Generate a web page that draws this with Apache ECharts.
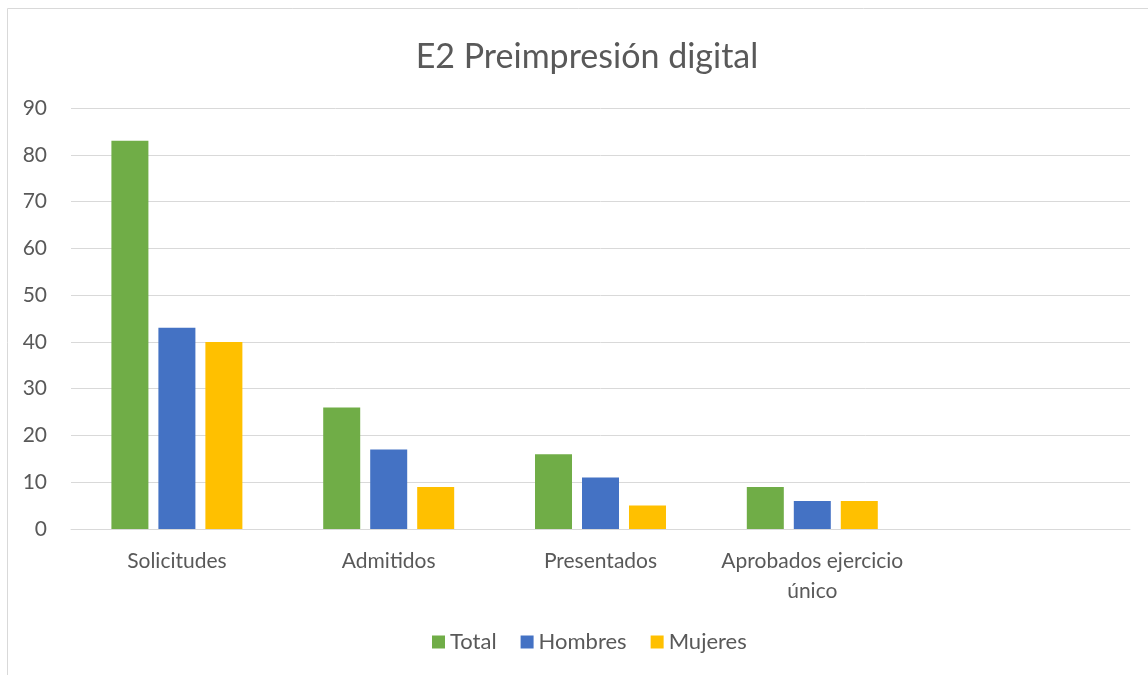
<!DOCTYPE html>
<html>
<head>
<meta charset="utf-8">
<script src="https://cdn.jsdelivr.net/npm/echarts@6/dist/echarts.min.js"></script>
<style>
  html, body { margin: 0; padding: 0; background: #fff; }
  #box { width: 1148px; height: 675px; }
</style>
</head>
<body>
<div id="box"></div>
<script>
// categories (last one is empty in the original sheet)
const categories = ["Solicitudes", "Admitidos", "Presentados", "Aprobados ejercicio\núnico", ""];
const total = [83, 26, 16, 9, null];
const hombres = [43, 17, 11, 6, null];
const mujeres = [40, 9, 5, 6, null];
const yTicks = [0, 10, 20, 30, 40, 50, 60, 70, 80, 90];

const font = "Lato, 'Open Sans', sans-serif";
const grey = "#595959";

let myCharts = echarts.init(document.getElementById("box"));
let option = {
  animation: false,
  textStyle: { fontFamily: font },
  title: {
    text: "E2 Preimpresión digital",
    left: 582,
    top: 35,
    textAlign: "center",
    textStyle: { fontFamily: font, fontSize: 34, fontWeight: "normal", color: grey }
  },
  graphic: [
    {
      type: "rect",
      shape: { x: 7.5, y: 8.5, width: 1160, height: 700 },
      style: { fill: "none", stroke: "#d9d9d9", lineWidth: 1 },
      silent: true
    }
  ],
  legend: {
    data: ["Total", "Hombres", "Mujeres"],
    bottom: 17,
    left: 427,
    itemWidth: 13,
    itemHeight: 13,
    itemGap: 24,
    icon: "rect",
    textStyle: { fontFamily: font, fontSize: 22, color: grey }
  },
  grid: {
    left: 71,
    right: 18,
    top: 108,
    bottom: 146,
    containLabel: false
  },
  xAxis: {
    type: "category",
    data: categories,
    axisLine: { show: true, lineStyle: { color: "#d9d9d9", width: 1 } },
    axisTick: { show: false },
    axisLabel: {
      color: grey,
      fontSize: 21,
      fontFamily: font,
      margin: 17,
      lineHeight: 30,
      interval: 0
    }
  },
  yAxis: {
    type: "value",
    min: yTicks[0],
    max: yTicks[yTicks.length - 1],
    interval: 10,
    axisLine: { show: false },
    axisTick: { show: false },
    splitLine: { lineStyle: { color: "#d9d9d9", width: 1 } },
    axisLabel: { color: grey, fontSize: 21, fontFamily: font, margin: 24 }
  },
  series: [
    { name: "Total", type: "bar", data: total, barWidth: 37, barGap: "27%", itemStyle: { color: "#70ad47" } },
    { name: "Hombres", type: "bar", data: hombres, barWidth: 37, barGap: "27%", itemStyle: { color: "#4472c4" } },
    { name: "Mujeres", type: "bar", data: mujeres, barWidth: 37, barGap: "27%", itemStyle: { color: "#ffc000" } }
  ]
};
myCharts.setOption(option);
</script>
</body>
</html>
